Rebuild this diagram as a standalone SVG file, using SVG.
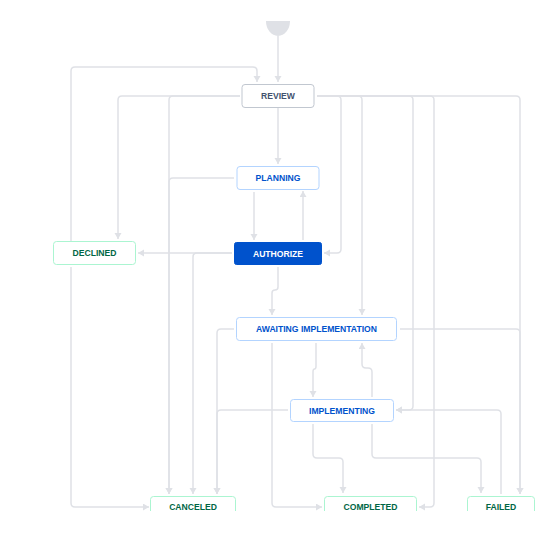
<svg xmlns="http://www.w3.org/2000/svg" width="560" height="536" viewBox="0 0 560 536">
<style>
.c{fill:none;stroke:#dfe1e6;stroke-width:1.5}
.a{marker-end:url(#ah)}
.n rect{stroke-width:1}
.t{font-family:"Liberation Sans",Arial,sans-serif;font-size:8.6px;font-weight:bold;text-anchor:middle}
.gray rect{fill:#fff;stroke:#c1c7d0}
.gray text{fill:#42526e}
.blue rect{fill:#fff;stroke:#b3d4ff}
.blue text{fill:#0052cc}
.sel rect{fill:#0052cc;stroke:#0052cc}
.sel text{fill:#fff}
.green rect{fill:#fff;stroke:#abf5d1}
.green text{fill:#006644}
</style>
<defs>
<marker id="ah" markerUnits="userSpaceOnUse" markerWidth="8" markerHeight="8" refX="6" refY="3.5" orient="auto">
<path d="M0,0 L6,3.5 L0,7 Z" fill="#dfe1e6"/>
</marker>
<clipPath id="clip"><rect x="0" y="0" width="560" height="511"/></clipPath>
</defs>
<rect width="560" height="536" fill="#fff"/>
<g id="connectors">
<path class="c a" d="M278,36 V82"/>
<path class="c a" d="M71,241 V71 Q71,67 75,67 H253 Q257,67 257,71 V82"/>
<path class="c a" d="M278,108 V164"/>
<path class="c a" d="M240,96 H122 Q118,96 118,100 V239"/>
<path class="c a" d="M240,96 H173 Q169,96 169,100 V494"/>
<path class="c a" d="M234,178 H173 Q169,178 169,182 V494"/>
<path class="c a" d="M254,192 V240"/>
<path class="c a" d="M303,240 V191"/>
<path class="c a" d="M232,253 H138"/>
<path class="c a" d="M232,253 H197 Q193,253 193,257 V494"/>
<path class="c a" d="M317,96 H337 Q341,96 341,100 V249 Q341,253 337,253 H324"/>
<path class="c a" d="M317,96 H358 Q362,96 362,100 V315"/>
<path class="c a" d="M317,96 H409 Q413,96 413,100 V406 Q413,410 409,410 H396"/>
<path class="c a" d="M317,96 H430 Q434,96 434,100 V503 Q434,507 430,507 H419"/>
<path class="c a" d="M317,96 H516 Q520,96 520,100 V494"/>
<path class="c a" d="M278,267 V287 Q278,290 275,290 Q272,290 272,293 V315"/>
<path class="c a" d="M234,329 H221 Q217,329 217,333 V494"/>
<path class="c a" d="M288,410 H221 Q217,410 217,414 V494"/>
<path class="c a" d="M272,343 V503 Q272,507 276,507 H322"/>
<path class="c a" d="M316,343 V366 Q316,369 314.5,369 Q313,369 313,372 V397"/>
<path class="c a" d="M372,397 V372 Q372,368 368,368 H366 Q362,368 362,364 V343"/>
<path class="c a" d="M400,329 H516 Q520,329 520,333 V494"/>
<path class="c a" d="M501,494 V414 Q501,410 497,410 H396"/>
<path class="c a" d="M313,424 V454 Q313,458 317,458 H339 Q343,458 343,462 V493"/>
<path class="c a" d="M372,424 V454 Q372,458 376,458 H477 Q481,458 481,462 V493"/>
<path class="c a" d="M71,267 V503 Q71,507 75,507 H149"/>
</g>
<g id="start"><path d="M266,21 A12,15 0 0 0 290,21 Z" fill="#dfe1e6"/></g>
<g id="review" class="n gray"><rect x="242" y="84.5" width="72" height="23" rx="3"/><text class="t" x="278" y="99.2">REVIEW</text></g>
<g id="planning" class="n blue"><rect x="237" y="166.5" width="82" height="23" rx="3"/><text class="t" x="278" y="181.2">PLANNING</text></g>
<g id="authorize" class="n sel"><rect x="234.5" y="242.5" width="87" height="22" rx="2"/><text class="t" x="278" y="256.5">AUTHORIZE</text></g>
<g id="declined" class="n green"><rect x="53.5" y="241.5" width="82" height="23" rx="3"/><text class="t" x="94.5" y="256">DECLINED</text></g>
<g id="awaiting-implementation" class="n blue"><rect x="236.5" y="317.5" width="160" height="23" rx="3"/><text class="t" x="316.5" y="332">AWAITING IMPLEMENTATION</text></g>
<g id="implementing" class="n blue"><rect x="290.5" y="399.5" width="103" height="22" rx="3"/><text class="t" x="342" y="413.5">IMPLEMENTING</text></g>
<g clip-path="url(#clip)">
<g id="canceled" class="n green"><rect x="150.5" y="496.5" width="85" height="24" rx="3"/><text class="t" x="193" y="510">CANCELED</text></g>
<g id="completed" class="n green"><rect x="324.5" y="496.5" width="92" height="24" rx="3"/><text class="t" x="370.5" y="510">COMPLETED</text></g>
<g id="failed" class="n green"><rect x="467.5" y="496.5" width="67" height="24" rx="3"/><text class="t" x="501" y="510">FAILED</text></g>
</g>
</svg>
